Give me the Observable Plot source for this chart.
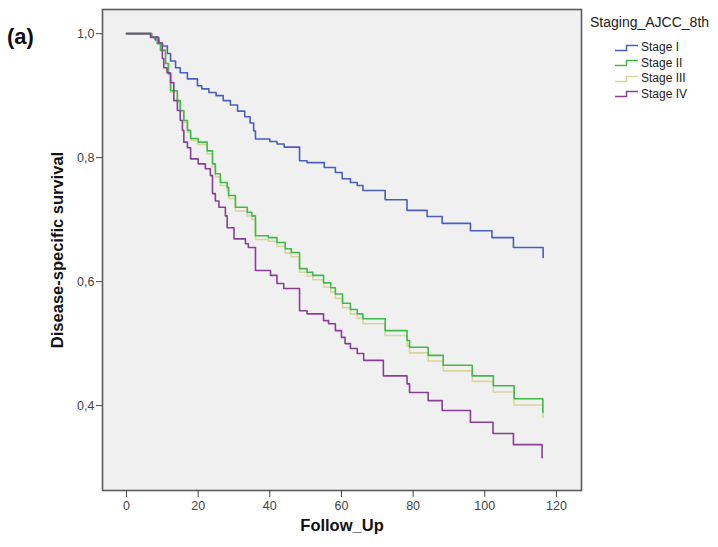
<!DOCTYPE html>
<html><head><meta charset="utf-8">
<script src="https://cdn.jsdelivr.net/npm/d3@7"></script>
<script src="https://cdn.jsdelivr.net/npm/@observablehq/plot@0.6"></script>
<style>
body{margin:0;background:#fff;font-family:"Liberation Sans",Arial,sans-serif;}
#wrap{position:relative;width:718px;height:547px;}
#panel{position:absolute;left:7px;top:24px;font-weight:bold;font-size:22px;color:#111;}
#legend{position:absolute;left:590px;top:13px;color:#222;}
#legend .title{font-size:14px;line-height:18px;margin-bottom:9px;}
#legend .item{font-size:12px;line-height:15.5px;height:15.5px;display:flex;align-items:center;margin-left:25px;}
#legend svg{margin-right:2px;}
</style>
</head><body>
<div id="wrap"><div id="panel">(a)</div><div id="legend"></div></div>
<script>
// ---- data ----
const stageNames = ["Stage I", "Stage II", "Stage III", "Stage IV"];
const stageColors = ["#4a5ec0", "#3fba4b", "#d9d59c", "#8a3f97"];
const legendTitle = "Staging_AJCC_8th";
const xLabel = "Follow_Up";
const yLabel = "Disease-specific survival";
const xTicks = [0, 20, 40, 60, 80, 100, 120];
const yTicks = [0.4, 0.6, 0.8, 1.0];

const stage1Time = [0, 7, 8, 9, 10, 11.4, 12.3, 13.7, 15, 17, 19.8, 21, 23, 25, 27, 29, 31, 33, 34.5, 35.5, 36, 40, 42, 44, 48.3, 50.4, 55.2, 58.3, 60.2, 62.5, 64.4, 66, 72.2, 78.3, 83.9, 88.1, 96, 102, 108, 116.3];
const stage1Surv = [1, 0.995, 0.99, 0.985, 0.98, 0.968, 0.956, 0.945, 0.937, 0.927, 0.916, 0.911, 0.905, 0.9, 0.892, 0.885, 0.875, 0.866, 0.856, 0.843, 0.830, 0.826, 0.822, 0.817, 0.795, 0.792, 0.784, 0.776, 0.766, 0.760, 0.755, 0.747, 0.732, 0.715, 0.705, 0.694, 0.682, 0.671, 0.655, 0.639];

const stage2Time = [0, 7, 8.6, 9.5, 10.9, 11.7, 12.3, 14.2, 15, 16, 17, 17.9, 20, 22.5, 24, 24.8, 26.2, 28.1, 28.5, 30.4, 33.7, 35, 36, 39.6, 42, 44.3, 46, 48.3, 50.4, 52, 55, 57, 58.3, 60.3, 62.5, 64.4, 66, 72.2, 78.3, 79, 84.2, 88.4, 96.5, 102.4, 108.2, 116.2];
const stage2Surv = [1, 0.995, 0.984, 0.973, 0.952, 0.935, 0.908, 0.892, 0.876, 0.86, 0.844, 0.831, 0.825, 0.811, 0.79, 0.774, 0.76, 0.752, 0.739, 0.72, 0.712, 0.706, 0.674, 0.671, 0.663, 0.653, 0.647, 0.621, 0.615, 0.61, 0.598, 0.59, 0.58, 0.565, 0.555, 0.548, 0.54, 0.521, 0.505, 0.494, 0.481, 0.465, 0.448, 0.432, 0.411, 0.389];

const stage3Time = [0, 7, 8.6, 9.5, 10.9, 11.7, 12.3, 14.2, 15, 16, 17, 17.9, 20, 22.5, 24, 24.8, 26.2, 28.1, 28.5, 30.4, 33.7, 35, 36, 39.6, 42, 44.3, 46, 48.3, 50.4, 52, 55, 57, 58.3, 60.3, 62.5, 64.4, 66, 72.2, 78.3, 79, 84.2, 88.4, 96.5, 102.4, 108.2, 116.2];
const stage3Surv = [1, 0.995, 0.984, 0.973, 0.952, 0.935, 0.906, 0.89, 0.874, 0.857, 0.841, 0.828, 0.821, 0.806, 0.785, 0.769, 0.755, 0.747, 0.734, 0.714, 0.706, 0.70, 0.668, 0.665, 0.657, 0.646, 0.64, 0.615, 0.609, 0.603, 0.591, 0.583, 0.573, 0.558, 0.548, 0.541, 0.532, 0.513, 0.496, 0.485, 0.472, 0.456, 0.439, 0.422, 0.401, 0.381];

const stage4Time = [0, 6.7, 9, 10, 10.4, 11.3, 12.3, 13.2, 14.2, 15, 15.6, 16, 17, 17.9, 20, 22, 23.4, 24, 24.8, 25.8, 27.6, 28.1, 30, 33.2, 34, 36, 40.2, 42, 43.9, 48.3, 50.4, 55, 56.4, 58.3, 60, 61, 62.5, 64.4, 66.2, 71.7, 78.3, 79, 84.2, 88.1, 96, 102.3, 108, 116];
const stage4Surv = [1, 0.994, 0.985, 0.96, 0.945, 0.937, 0.921, 0.892, 0.876, 0.86, 0.844, 0.825, 0.816, 0.798, 0.79, 0.782, 0.771, 0.742, 0.73, 0.72, 0.706, 0.687, 0.669, 0.661, 0.655, 0.618, 0.61, 0.597, 0.589, 0.553, 0.548, 0.537, 0.532, 0.521, 0.51, 0.50, 0.492, 0.484, 0.473, 0.448, 0.435, 0.421, 0.408, 0.392, 0.373, 0.355, 0.337, 0.316];

const times = [stage1Time, stage2Time, stage3Time, stage4Time];
const survs = [stage1Surv, stage2Surv, stage3Surv, stage4Surv];
const drawOrder = [0, 2, 1, 3];

const rows = [];
drawOrder.forEach(i => times[i].forEach((t, j) => rows.push({stage: stageNames[i], t, s: survs[i][j]})));

const fmt = d => d.toFixed(1).replace(".", ",");

const chart = Plot.plot({
  width: 718, height: 547,
  marginLeft: 102, marginRight: 137, marginTop: 9, marginBottom: 57,
  style: {fontFamily: "'Liberation Sans', Arial, sans-serif", background: "transparent", overflow: "visible"},
  x: {domain: [-6.7, 127]},
  y: {domain: [0.263, 1.039]},
  color: {domain: stageNames, range: stageColors},
  marks: [
    Plot.frame({fill: "#f0f0f0"}),
    Plot.line(rows, {x: "t", y: "s", z: "stage", stroke: "stage", curve: "step-after", strokeWidth: 1.6}),
    Plot.frame({stroke: "#5c5c5c", strokeWidth: 1.6}),
    Plot.axisX({ticks: xTicks, tickSize: 7, tickPadding: 4, fontSize: 12.5, label: null, color: "#444"}),
    Plot.axisY({ticks: yTicks, tickFormat: fmt, tickSize: 6, tickPadding: 2, fontSize: 12.5, label: null, color: "#444"}),
    Plot.text([xLabel], {text: d => d, frameAnchor: "bottom", dy: 40, fontWeight: "bold", fontSize: 16.5, fill: "#111"}),
    Plot.text([yLabel], {text: d => d, frameAnchor: "left", textAnchor: "middle", dx: -45, rotate: -90, fontWeight: "bold", fontSize: 16.5, fill: "#111"})
  ]
});
document.getElementById("wrap").prepend(chart);

const legend = document.getElementById("legend");
const t = document.createElement("div"); t.className = "title"; t.textContent = legendTitle; legend.appendChild(t);
stageNames.forEach((name, i) => {
  const it = document.createElement("div"); it.className = "item";
  it.innerHTML = `<svg width="24" height="8"><path d="M0,6.5H11.5V1.5H23" fill="none" stroke="${stageColors[i]}" stroke-width="1.5"/></svg><span>${name}</span>`;
  legend.appendChild(it);
});
</script>
</body></html>
